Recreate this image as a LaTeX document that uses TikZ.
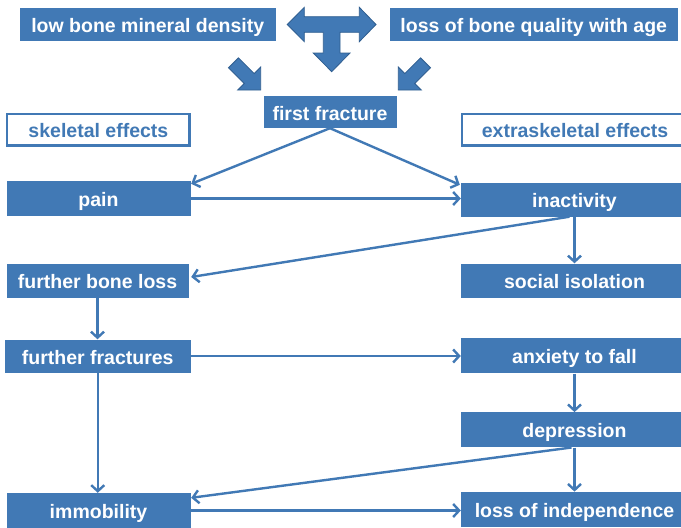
\documentclass[tikz,border=0pt]{standalone}
\usepackage{fontspec}
\setmainfont{Liberation Sans}
\usetikzlibrary{arrows.meta,calc}
\definecolor{myblue}{HTML}{4179B5}
\definecolor{edgeblue}{HTML}{2F5E90}
\begin{document}
\begin{tikzpicture}[x=1pt,y=-1pt,
  lbl/.style={font=\fontsize{19.5}{22}\selectfont\bfseries, inner sep=0pt, text height=18pt, text depth=2pt},
  box/.style={lbl, fill=myblue, text=white},
  rbox/.style={box, minimum width=227pt, minimum height=35pt},
  obox/.style={lbl, draw=myblue, line width=2.3pt, fill=white, text=myblue},
  conn/.style={draw=myblue, line width=2.4pt, -{Straight Barb[length=6pt,width=13pt]}},
  blockarrow/.style={fill=myblue, draw=edgeblue, line width=0.8pt, line join=miter}
]
\clip (0,0) rectangle (681,528);
\fill[white] (0,0) rectangle (681,528);

% top row
\node[box, minimum width=255.5pt, minimum height=33pt] (lbmd) at (147.75,24) {low bone mineral density};
\node[box, minimum width=287.5pt, minimum height=33pt] (lbq) at (533.75,24.5) {loss of bone quality with age};

% T-shaped block arrow
\path[blockarrow] (287.3,24.5) -- (304.3,7.3) -- (304.3,16.7) -- (359.3,16.7) -- (359.3,7.3)
  -- (376,24.5) -- (359.3,41.7) -- (359.3,32.3) -- (340,32.3) -- (340,53) -- (350,53)
  -- (331.7,71.7) -- (313.3,53) -- (323.3,53) -- (323.3,32.3) -- (304.3,32.3) -- (304.3,41.7) -- cycle;
% diagonal block arrows
\path[blockarrow] (238.45,57.85) -- (254.15,73.55) -- (260.73,66.97) -- (260.7,90)
  -- (237.67,90.03) -- (244.25,83.45) -- (228.55,67.75) -- cycle;
\path[blockarrow] (420.55,57.85) -- (404.85,73.55) -- (398.27,66.97) -- (398.3,90)
  -- (421.33,90.03) -- (414.75,83.45) -- (430.45,67.75) -- cycle;

\node[box, minimum width=133pt, minimum height=32pt] (ff) at (330,112) {first fracture};
\node[obox, minimum width=182.3pt, minimum height=31.6pt] (skel) at (98.4,129.7) {skeletal effects};
\node[obox, minimum width=225.8pt, minimum height=31.6pt] (extra) at (575.1,129.7) {extraskeletal effects};

% left column
\node[box, minimum width=184pt, minimum height=35pt] (pain) at (98.5,198.5) {pain};
\node[box, minimum width=182pt, minimum height=34pt] (fbl) at (97.5,280.5) {further bone loss};
\node[box, minimum width=185.5pt, minimum height=33pt] (ffr) at (97.75,356) {further fractures};
\node[box, minimum width=184pt, minimum height=35pt] (imm) at (98.5,510.5) {immobility};

% right column
\node[rbox, minimum height=34pt] (inact) at (574.5,199.5) {inactivity};
\node[rbox, minimum height=34pt] (soc) at (574.5,280.5) {social isolation};
\node[rbox] (anx) at (574.5,355.8) {anxiety to fall};
\node[rbox] (dep) at (574.5,429.8) {depression};
\node[rbox] (loi) at (574.5,509.3) {loss of independence};

% connectors
\draw[conn] (ff.south) -- ($(pain.north east)+(0.5,3)$);
\draw[conn] (ff.south) -- ($(inact.north west)+(-1,2.5)$);
\draw[conn] (pain.east) -- (pain.east -| inact.west);
\draw[conn] ($(inact.south)+(-5,0)$) -- ($(fbl.east)+(2.5,-3.5)$);
\draw[conn] (inact.south) -- (soc.north);
\draw[conn] (fbl.south) -- (fbl.south |- ffr.north);
\draw[conn] (ffr.east) -- (ffr.east -| anx.west);
\draw[conn] (ffr.south) -- (ffr.south |- imm.north);
\draw[conn] (anx.south) -- (dep.north);
\draw[conn] (dep.south) -- (loi.north);
\draw[conn] ($(dep.south)+(-3,0)$) -- ($(imm.north east)+(0.5,5)$);
\draw[conn] (imm.east) -- (imm.east -| loi.west);
\end{tikzpicture}
\end{document}
